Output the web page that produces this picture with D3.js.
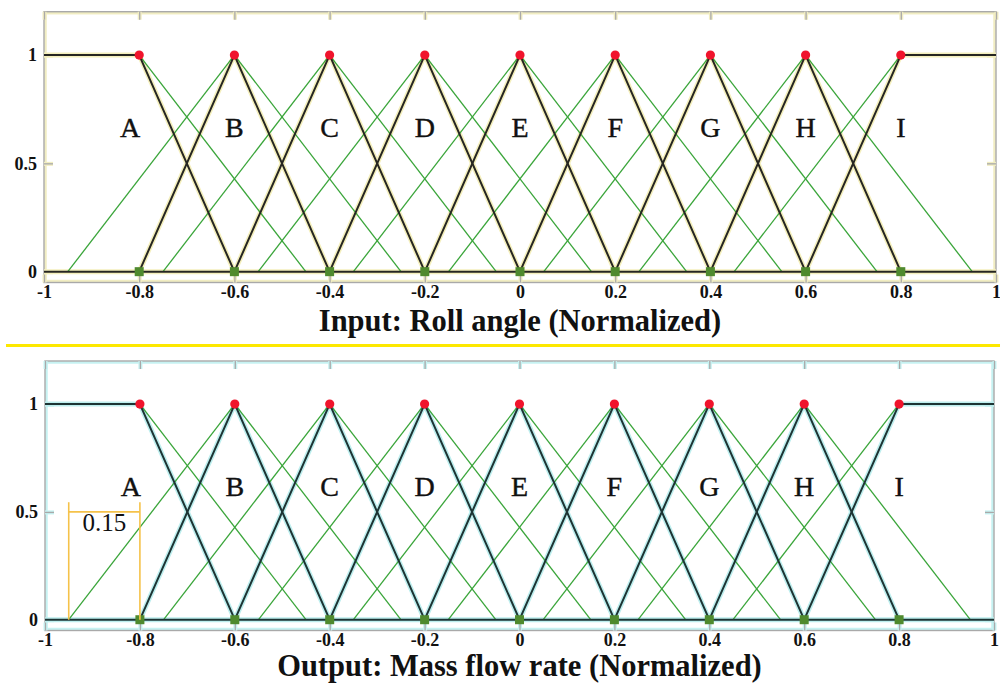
<!DOCTYPE html>
<html>
<head>
<meta charset="utf-8">
<script src="https://cdn.jsdelivr.net/npm/d3@7"></script>
<style>
  html, body { margin: 0; padding: 0; background: #fff; }
  svg { display: block; }
</style>
</head>
<body>
<svg id="chart" width="1000" height="685"></svg>
<script>
// Fuzzy sets: nine triangular membership functions on a normalized axis
const setLabels = ["A", "B", "C", "D", "E", "F", "G", "H", "I"];
const setCenters = [-0.8, -0.6, -0.4, -0.2, 0, 0.2, 0.4, 0.6, 0.8];
const coreHalfWidth = 0.2;   // black triangles reach zero at neighbouring centres
const overlap = 0.15;        // green triangles extend this far past the neighbour
const xTickValues = [-1, -0.8, -0.6, -0.4, -0.2, 0, 0.2, 0.4, 0.6, 0.8, 1];
const xTickLabels = ["-1", "-0.8", "-0.6", "-0.4", "-0.2", "0", "0.2", "0.4", "0.6", "0.8", "1"];
const yTickValues = [0, 0.5, 1];
const yTickLabels = ["0", "0.5", "1"];
const overlapLabel = "0.15";

const panels = [
  {
    title: "Input: Roll angle (Normalized)",
    xRange: [44, 996], yRange: [282.5, 11.7],
    titleY: 331, labelValue: 0.62,
    line: "#262622", halo: "#f4efbc", frameHalo: "#f1edc2",
    annotate: false
  },
  {
    title: "Output: Mass flow rate (Normalized)",
    xRange: [45, 994], yRange: [630.5, 361],
    titleY: 676, labelValue: 0.575,
    line: "#1d3434", halo: "#bdeeee", frameHalo: "#c6f2f2",
    annotate: true
  }
];

const svg = d3.select("#chart");
const serif = "'Liberation Serif', 'DejaVu Serif', serif";
const green = "#3aa53a";

function drawPanel(p) {
  const x = d3.scaleLinear().domain([-1, 1]).range(p.xRange);
  const y = d3.scaleLinear().domain([-0.05, 1.2]).range(p.yRange);
  const g = svg.append("g");
  const [x0, x1] = p.xRange;
  const [yb, yt] = p.yRange;

  // frame
  g.append("rect").attr("x", x0 + 1.5).attr("y", yt + 1.5)
    .attr("width", x1 - x0 - 3).attr("height", yb - yt - 3)
    .attr("fill", "none").attr("stroke", p.frameHalo).attr("stroke-width", 2.5);
  g.append("rect").attr("x", x0).attr("y", yt)
    .attr("width", x1 - x0).attr("height", yb - yt)
    .attr("fill", "none").attr("stroke", "#a9a9a9").attr("stroke-width", 1.4);

  // inner tick marks (with a pale halo) on all four sides
  const tickAxes = [
    [d3.axisTop(x).tickValues(xTickValues).tickSize(-8), `translate(0,${yt})`],
    [d3.axisBottom(x).tickValues(xTickValues).tickSize(-8), `translate(0,${yb})`],
    [d3.axisLeft(y).tickValues(yTickValues).tickSize(-9), `translate(${x0},0)`],
    [d3.axisRight(y).tickValues(yTickValues).tickSize(-9), `translate(${x1},0)`]
  ];
  [[p.frameHalo, 4], ["#a9a9a9", 1.3]].forEach(([col, w]) => {
    tickAxes.forEach(([ax, tr]) => {
      const a = g.append("g").attr("transform", tr).call(ax.tickFormat(""));
      a.select(".domain").remove();
      a.selectAll("line").attr("stroke", col).attr("stroke-width", w);
    });
  });

  // tick labels
  const xa = g.append("g").attr("transform", `translate(0,${yb})`)
    .call(d3.axisBottom(x).tickValues(xTickValues).tickSize(0).tickPadding(3)
      .tickFormat((d, i) => xTickLabels[i]));
  const ya = g.append("g").attr("transform", `translate(${x0},0)`)
    .call(d3.axisLeft(y).tickValues(yTickValues).tickSize(0).tickPadding(7)
      .tickFormat((d, i) => yTickLabels[i]));
  [xa, ya].forEach(a => {
    a.select(".domain").remove();
    a.selectAll("text").attr("font-family", serif).attr("font-weight", "bold")
      .attr("font-size", 18).attr("fill", "#111");
  });

  const line = d3.line().x(d => x(d[0])).y(d => y(d[1]));
  const last = setCenters.length - 1;

  // black core triangles (shoulders at both ends) and the zero baseline
  const cores = setCenters.map((c, i) => {
    if (i === 0) return [[-1, 1], [c, 1], [c + coreHalfWidth, 0]];
    if (i === last) return [[c - coreHalfWidth, 0], [c, 1], [1, 1]];
    return [[c - coreHalfWidth, 0], [c, 1], [c + coreHalfWidth, 0]];
  });
  cores.push([[-1, 0], [1, 0]]);

  // green widened triangles
  const spread = coreHalfWidth + overlap;
  const legs = [];
  setCenters.forEach((c, i) => {
    if (i > 0) legs.push([[c - spread, 0], [c, 1]]);
    if (i < last) legs.push([[c, 1], [c + spread, 0]]);
  });

  g.append("g").selectAll("path").data(cores).join("path")
    .attr("d", line).attr("fill", "none").attr("stroke", p.halo)
    .attr("stroke-width", 5).attr("stroke-linejoin", "round");
  g.append("g").selectAll("path").data(legs).join("path")
    .attr("d", line).attr("fill", "none").attr("stroke", green).attr("stroke-width", 1.3);
  g.append("g").selectAll("path").data(cores).join("path")
    .attr("d", line).attr("fill", "none").attr("stroke", p.line)
    .attr("stroke-width", 2).attr("stroke-linejoin", "round");

  // markers: peaks and feet
  g.append("g").selectAll("rect").data(setCenters).join("rect")
    .attr("x", d => x(d) - 4.5).attr("y", y(0) - 4.5)
    .attr("width", 9).attr("height", 9).attr("fill", "#4f8a2e");
  g.append("g").selectAll("circle").data(setCenters).join("circle")
    .attr("cx", d => x(d)).attr("cy", y(1)).attr("r", 4.6).attr("fill", "#f0142c");

  // set names
  g.append("g").selectAll("text").data(setLabels).join("text")
    .attr("x", (d, i) => x(setCenters[i]) - (i === 0 ? 9 : 0))
    .attr("y", y(p.labelValue))
    .attr("text-anchor", "middle").attr("font-family", serif)
    .attr("font-size", 28).attr("fill", "#111")
    .attr("stroke", "#111").attr("stroke-width", 0.4).text(d => d);

  // overlap dimension
  if (p.annotate) {
    const a = g.append("g").attr("stroke", "#f5c24a").attr("stroke-width", 1.6);
    const xl = x(setCenters[0] - overlap), xr = x(setCenters[0]);
    a.append("line").attr("x1", xl).attr("x2", xl).attr("y1", y(0.545)).attr("y2", y(0));
    a.append("line").attr("x1", xr).attr("x2", xr).attr("y1", y(0.545)).attr("y2", y(0));
    a.append("line").attr("x1", xl).attr("x2", xr).attr("y1", y(0.5)).attr("y2", y(0.5));
    g.append("text").attr("x", (xl + xr) / 2).attr("y", y(0.5) + 19)
      .attr("text-anchor", "middle").attr("font-family", serif)
      .attr("font-size", 25).attr("fill", "#111").text(overlapLabel);
  }

  // axis title
  g.append("text").attr("x", (x0 + x1) / 2).attr("y", p.titleY)
    .attr("text-anchor", "middle").attr("font-family", serif)
    .attr("font-weight", "bold").attr("font-size", 30.5).attr("fill", "#111")
    .text(p.title);
}

panels.forEach(drawPanel);

// separator between the two panels
svg.append("line").attr("x1", 6).attr("x2", 1000).attr("y1", 345.5).attr("y2", 345.5)
  .attr("stroke", "#fde800").attr("stroke-width", 3);
</script>
</body>
</html>
